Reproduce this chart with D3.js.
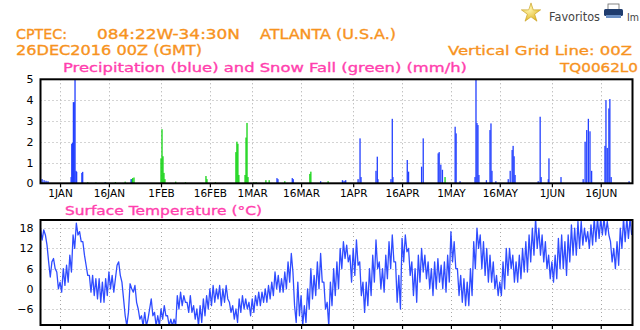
<!DOCTYPE html>
<html>
<head>
<meta charset="utf-8">
<script src="https://cdn.jsdelivr.net/npm/d3@7"></script>
<style>
  html, body { margin: 0; padding: 0; background: #fff; overflow: hidden; }
  svg { display: block; }
  text { font-family: "DejaVu Sans", "Liberation Sans", sans-serif; }
</style>
</head>
<body>
<svg id="chart" width="640" height="330"></svg>
<script>
// ---- time axis labels ----
const tickDates  = ["2017-01-01","2017-01-16","2017-02-01","2017-02-16","2017-03-01","2017-03-16",
                    "2017-04-01","2017-04-16","2017-05-01","2017-05-16","2017-06-01","2017-06-16"];
const tickLabels = ["1JAN","16JAN","1FEB","16FEB","1MAR","16MAR","1APR","16APR","1MAY","16MAY","1JUN","16JUN"];
const precipTicks = [0, 1, 2, 3, 4, 5];
const tempTicks   = [-6, 0, 6, 12, 18];

// ---- precipitation (blue): days since 26DEC2016 00Z, mm/h ----
const rainDay = [0.0, 0.5, 1.1, 1.7, 2.3, 9.4, 9.6, 9.85, 10.1, 10.35, 10.6, 10.9, 11.1, 12.7, 12.95,
  19.8, 27.8, 72.6, 72.9, 77.3, 77.6, 86.0, 92.7, 93.2, 93.7, 97.5, 98.1, 98.4, 103.0, 103.4, 103.6,
  107.6, 108.0, 108.2, 112.6, 113.0, 117.0, 117.5, 122.1, 122.4, 122.9, 123.4, 127.3, 127.6, 128.8,
  133.4, 133.7, 134.0, 134.3, 134.6, 136.9, 138.0, 138.3, 138.6, 139.8, 143.6, 144.2, 144.8, 145.1,
  145.4, 145.7, 152.8, 153.4, 153.7, 155.9, 156.1, 159.8, 166.6, 167.2, 167.7, 168.2, 168.7, 169.2,
  173.3, 173.6, 174.0, 174.5, 174.8, 175.2, 180.7];
const rainMm = [0.2, 0.2, 0.15, 0.12, 0.1, 0.3, 1.9, 1.95, 3.9, 3.9, 5.0, 0.6, 0.55, 0.5, 0.55,
  0.05, 0.2, 0.25, 0.2, 0.25, 0.2, 0.1, 0.15, 0.12, 0.15, 0.2, 2.16, 0.3, 0.6, 1.28, 0.2,
  0.2, 3.1, 0.3, 1.12, 0.56, 0.8, 2.16, 1.44, 1.5, 0.9, 0.65, 2.72, 2.4, 0.1,
  0.3, 5.0, 2.9, 2.8, 0.4, 0.15, 2.56, 2.88, 0.6, 0.1, 0.2, 0.6, 1.6, 1.8,
  1.3, 0.4, 0.1, 3.2, 0.3, 0.2, 1.2, 0.3, 0.2, 2.0, 2.56, 3.1, 2.5, 0.6,
  1.8, 4.0, 1.7, 3.6, 4.05, 0.3, 0.1];

// ---- snow fall (green): days since 26DEC2016 00Z, mm/h ----
const snowDay = [14.5, 17.0, 20.0, 23.0, 26.0, 28.0, 28.3, 28.7, 37.0, 37.3, 37.6, 37.9, 38.2,
  41.5, 44.5, 50.8, 51.1, 53.7, 60.0, 60.3, 60.6, 60.9, 62.8, 63.1, 63.4, 63.7, 65.5, 66.2,
  69.2, 70.2, 75.0, 82.7, 83.0, 88.3, 124.2];
const snowMm = [0.05, 0.04, 0.05, 0.06, 0.08, 0.2, 0.25, 0.28, 1.2, 2.6, 1.3, 0.5, 0.2,
  0.08, 0.05, 0.35, 0.2, 0.05, 1.5, 2.0, 1.9, 0.4, 0.4, 2.2, 2.9, 0.3, 0.05, 0.05,
  0.15, 0.15, 0.1, 0.45, 0.56, 0.1, 0.3];

// ---- surface temperature (°C), every 12 h from 26DEC2016 00Z ----
const temperature = [
  17.8,14.5, 17.5,16, 13,8, 3.5,8, 9,6, 5,0, 2,-1, 6,1, 7,2, 10,5,
  16,12, 19.5,16, 17,14, 14,10, 7,4, 4,-1, 4,-2, 3,-3, 3,-4, 2,-4,
  3,-2, 5,0, 4,-1, 3,7, 8,4, 2,-3, -8,-11, -7,1.5, 0,-1, 1,-4,
  -6,-9, -8,-11, -7,-11, -9,-6, -3,-8, -7,-11, -8,-11, -6,-9, -5,-8, -8,-11,
  -9,-11, -9,-11, -2,-6, -1,-5, -2,-4, -4,-7, -2,-7, -5,-9, -6,-11, -5,-10,
  -3,-8, -2,-6, 0,-5, 1,-4, 0,-3, 1,-5, 0,-4, 1,-3, -4,-7, -5,-9,
  -6,-10, -3,-7, -2,-6, -3,-6, -4,-8, -3,-7, -2,-5, -1,-5, -1,-4, 0,-4,
  1,-3, 2,-2, 5,0, 4,-1, 3,-1, 5,0, 8,2, 10.5,5, -5,-10, 2,-8,
  -2,-11, -5,-10, 0,-6, 6,-3, 4,-2, 8,0, 10.5,2, 2,-6, -4,-11, 2,-5,
  6,-2, 8,0, 12,6, 14,9, 13,8, 10,2, 12,4, 14.5,7, 8,-2, 2,-7,
  2,-5, 6,-2, 10,2, 14.5,6, 8,0, 6,-1, 10,3, 14,6, 16,8, 8,-4,
  4,-6, 15,8, 16,11, 12,4, 8,-2, 6,-4, 10,2, 12,5, 10,3, 8,0,
  6,-2, 8,0, 9,2, 7,0, 8,-1, 10,2, 17,8, 14,6, 6,-2, 4,-4,
  3,-5, 2,-5, 6,-2, 14,6, 18,12, 16,6, 14,4, 12,2, 10,2, 8,0,
  4,-2, 2,-2, 8,0, 12,4, 12,6, 10,2, 8,2, 10,3, 12,5, 14,5,
  16,8, 18,10, 21,12, 18,10, 16,8, 14,6, 10,3, 8,2, 10,3, 15,6,
  16,6, 14,4, 16,8, 19,10, 18,10, 20,12, 20,13, 18,14, 17,12, 19,13,
  21,14, 21,15, 21,16, 21,16, 20,16, 14,8, 12,6, 14,7, 18,12, 21,14,
  21,15, 21,16
];

// ---- scales ----
const DAY = 864e5;
const t0 = Date.UTC(2016, 11, 26);
const toDate = d => new Date(t0 + d * DAY);
const x  = d3.scaleUtc().domain([toDate(0), toDate(181.75)]).range([40.5, 632.5]);
const yP = d3.scaleLinear().domain([0, 5]).range([183.3, 79.3]);
const yT = d3.scaleLinear().domain([-10.75, 20.45]).range([325, 220]);
const ticks = tickDates.map(s => new Date(s + "T00:00:00Z"));

const svg = d3.select("#chart");
const defs = svg.append("defs");

const ORANGE = "#f7931e", MAGENTA = "#ff3fae";
const BLUE = "#2340ff", GREEN = "#14d414", GRID = "#a8a8a8";

// ---- header texts ----
function label(txt, x0, y0, size, color, len) {
  const t = svg.append("text").attr("x", x0).attr("y", y0)
    .attr("font-size", size).attr("fill", color)
    .attr("stroke", color).attr("stroke-width", 0.35).text(txt);
  if (len) t.attr("textLength", len).attr("lengthAdjust", "spacingAndGlyphs");
  return t;
}
label("CPTEC:", 16, 38.5, 14, ORANGE, 51);
label("084:22W-34:30N", 97, 38.5, 14, ORANGE, 143);
label("ATLANTA (U.S.A.)", 260, 38.5, 14, ORANGE, 136);
label("26DEC2016 00Z (GMT)", 16, 54.5, 14, ORANGE, 186);
label("Vertical Grid Line: 00Z", 448, 54.5, 13, ORANGE, 184);
label("Precipitation (blue) and Snow Fall (green) (mm/h)", 63, 71.5, 12.5, MAGENTA, 404);
label("TQ0062L0", 560, 71.5, 13, ORANGE, 78);
label("Surface Temperature (\u00B0C)", 65, 214.5, 13, MAGENTA, 197);

// ---- browser toolbar fragment at top right ----
const grad = defs.append("radialGradient").attr("id", "starFill").attr("cx", "40%").attr("cy", "35%").attr("r", "70%");
grad.append("stop").attr("offset", "0%").attr("stop-color", "#fff6b0");
grad.append("stop").attr("offset", "100%").attr("stop-color", "#e0b420");
svg.append("path").attr("d", d3.symbol(d3.symbolStar, 115)())
  .attr("transform", "translate(531,13)")
  .attr("fill", "url(#starFill)").attr("stroke", "#c49a18").attr("stroke-width", 0.6);
svg.append("text").attr("x", 549).attr("y", 21).attr("font-size", 11.5).attr("fill", "#444")
  .attr("textLength", 51).attr("lengthAdjust", "spacingAndGlyphs").text("Favoritos");
const pr = svg.append("g");
pr.append("rect").attr("x", 608).attr("y", 4).attr("width", 11).attr("height", 6).attr("fill", "#fff").attr("stroke", "#666").attr("stroke-width", 0.8);
pr.append("rect").attr("x", 604).attr("y", 9).attr("width", 19).attr("height", 7).attr("rx", 1.5).attr("fill", "#1f3c6e");
pr.append("rect").attr("x", 606).attr("y", 15).attr("width", 15).attr("height", 3).attr("fill", "#6b8fc4");
svg.append("text").attr("x", 627).attr("y", 21).attr("font-size", 11).attr("fill", "#444")
  .attr("textLength", 12).attr("lengthAdjust", "spacingAndGlyphs").text("Im");

// ---- panel drawing helpers ----
function panel(id, yScale, yTicks, yTop, yBot) {
  defs.append("clipPath").attr("id", id)
    .append("rect").attr("x", 40.5).attr("y", yTop).attr("width", 592).attr("height", yBot - yTop);
  const g = svg.append("g");
  // dotted grid
  g.append("g").selectAll("line").data(ticks).join("line")
    .attr("x1", d => Math.round(x(d)) + 0.5).attr("x2", d => Math.round(x(d)) + 0.5)
    .attr("y1", yTop).attr("y2", yBot)
    .attr("stroke", GRID).attr("stroke-width", 1).attr("stroke-dasharray", "1,3");
  g.append("g").selectAll("line").data(yTicks.filter(v => yScale(v) > yTop + 2 && yScale(v) < yBot - 2)).join("line")
    .attr("x1", 40.5).attr("x2", 632.5)
    .attr("y1", d => Math.round(yScale(d)) + 0.5).attr("y2", d => Math.round(yScale(d)) + 0.5)
    .attr("stroke", GRID).attr("stroke-width", 1).attr("stroke-dasharray", "1,3");
  return g;
}
function frameAndAxes(yScale, yTicks, yTop, yBot, showDates) {
  const ax = svg.append("g").attr("transform", `translate(0,${yBot})`)
    .call(d3.axisBottom(x).tickValues(ticks)
      .tickFormat((d, i) => showDates ? tickLabels[i] : "").tickSize(4).tickPadding(2));
  ax.select(".domain").remove();
  ax.selectAll("line").attr("stroke", "#000").attr("stroke-width", 1.2);
  ax.selectAll("text").attr("font-size", 10.5).attr("fill", "#000")
    .attr("font-family", "DejaVu Sans, sans-serif");
  const ay = svg.append("g").attr("transform", "translate(40.5,0)")
    .call(d3.axisLeft(yScale).tickValues(yTicks).tickSize(0).tickPadding(7));
  ay.select(".domain").remove();
  ay.selectAll("text").attr("font-size", 11).attr("fill", "#000")
    .attr("font-family", "DejaVu Sans, sans-serif").text(d => d < 0 ? "\u2212" + Math.abs(d) : d);
  svg.append("rect").attr("x", 40.5).attr("y", yTop).attr("width", 592).attr("height", yBot - yTop)
    .attr("fill", "none").attr("stroke", "#000").attr("stroke-width", 2);
}

// ---- precipitation panel ----
const gP = panel("clipP", yP, precipTicks, 79.3, 183.3);
const bars = gP.append("g").attr("clip-path", "url(#clipP)");
const barW = 1.3;
bars.selectAll("rect.snow").data(snowDay.map((d, i) => ({ t: toDate(d), v: snowMm[i] }))).join("rect")
  .attr("class", "snow")
  .attr("x", d => x(d.t) - barW / 2).attr("width", barW)
  .attr("y", d => yP(d.v)).attr("height", d => yP(0) - yP(d.v))
  .attr("fill", GREEN);
bars.selectAll("rect.rain").data(rainDay.map((d, i) => ({ t: toDate(d), v: rainMm[i] }))).join("rect")
  .attr("class", "rain")
  .attr("x", d => x(d.t) - barW / 2).attr("width", barW)
  .attr("y", d => yP(d.v)).attr("height", d => yP(0) - yP(d.v))
  .attr("fill", BLUE);
frameAndAxes(yP, precipTicks, 79.3, 183.3, true);

// ---- temperature panel ----
const gT = panel("clipT", yT, tempTicks, 220, 325);
const line = d3.line().x((v, i) => x(toDate(i * 0.5))).y(v => yT(v));
gT.append("path").attr("clip-path", "url(#clipT)")
  .datum(temperature).attr("d", line)
  .attr("fill", "none").attr("stroke", "#2f4cff").attr("stroke-width", 1.3).attr("stroke-linejoin", "round");
frameAndAxes(yT, tempTicks, 220, 325, false);
</script>
</body>
</html>
